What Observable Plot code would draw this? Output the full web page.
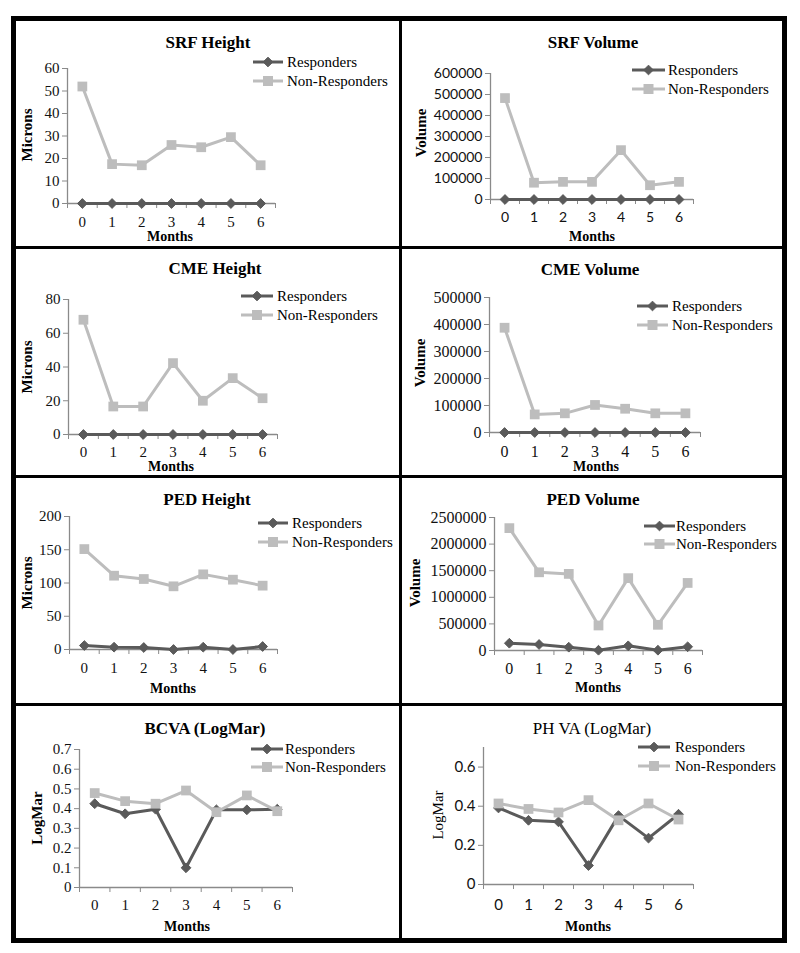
<!DOCTYPE html>
<html><head><meta charset="utf-8">
<script src="https://cdn.jsdelivr.net/npm/d3@7"></script>
<script src="https://cdn.jsdelivr.net/npm/@observablehq/plot@0.6"></script>
<style>
body{margin:0;background:#fff;width:800px;height:953px;position:relative;overflow:hidden}
#frame{position:absolute;left:11px;top:16px;width:776px;height:927px;border:5px solid #000;box-sizing:border-box}
.bar{position:absolute;background:#000}
.cell{position:absolute;overflow:visible}
.cell > svg{position:absolute;left:0;top:0;overflow:visible}
.txt{position:absolute;white-space:nowrap;color:#000;font-family:"Liberation Serif",serif;line-height:1}
</style></head>
<body>
<div id="frame"></div>
<script>
// ---------------- data ----------------
const months = [0, 1, 2, 3, 4, 5, 6];
const seriesNames = ["Responders", "Non-Responders"];

const srfHeightResponders    = [0, 0, 0, 0, 0, 0, 0];
const srfHeightNonResponders = [52, 17.5, 17, 26, 25, 29.5, 17];
const srfHeightTicks = [0, 10, 20, 30, 40, 50, 60];

const srfVolumeResponders    = [0, 0, 0, 0, 0, 0, 0];
const srfVolumeNonResponders = [483000, 80000, 84000, 84000, 235000, 68000, 84000];
const srfVolumeTicks = [0, 100000, 200000, 300000, 400000, 500000, 600000];

const cmeHeightResponders    = [0, 0, 0, 0, 0, 0, 0];
const cmeHeightNonResponders = [68, 16.6, 16.6, 42.3, 20, 33.4, 21.5];
const cmeHeightTicks = [0, 20, 40, 60, 80];

const cmeVolumeResponders    = [0, 0, 0, 0, 0, 0, 0];
const cmeVolumeNonResponders = [388000, 67000, 71000, 102000, 88000, 71000, 71000];
const cmeVolumeTicks = [0, 100000, 200000, 300000, 400000, 500000];

const pedHeightResponders    = [6, 3.5, 3, 0, 3.5, 0, 4.5];
const pedHeightNonResponders = [151, 111, 106, 95, 113, 105, 96];
const pedHeightTicks = [0, 50, 100, 150, 200];

const pedVolumeResponders    = [137000, 113000, 62000, 5000, 88000, 5000, 70000];
const pedVolumeNonResponders = [2300000, 1470000, 1440000, 470000, 1360000, 483000, 1270000];
const pedVolumeTicks = [0, 500000, 1000000, 1500000, 2000000, 2500000];

const bcvaResponders    = [0.425, 0.374, 0.397, 0.1, 0.394, 0.394, 0.397];
const bcvaNonResponders = [0.479, 0.438, 0.425, 0.492, 0.382, 0.467, 0.387];
const bcvaTicks = [0, 0.1, 0.2, 0.3, 0.4, 0.5, 0.6, 0.7];

const phvaResponders    = [0.391, 0.328, 0.32, 0.097, 0.352, 0.237, 0.359];
const phvaNonResponders = [0.414, 0.386, 0.368, 0.431, 0.328, 0.414, 0.332];
const phvaTicks = [0, 0.2, 0.4, 0.6];

const titles = ["SRF Height", "SRF Volume", "CME Height", "CME Volume", "PED Height", "PED Volume", "BCVA (LogMar)", "PH VA (LogMar)"];
const yLabels = ["Microns", "Volume", "Microns", "Volume", "Microns", "Volume", "LogMar", "LogMar"];
const xLabel = "Months";

// ---------------- style ----------------
const DARK = "#5a5a5a", LIGHT = "#bdbdbd", AXIS = "#8a8a8a";
const SERIF = "Liberation Serif", SANS = "Lato";

// panel layout (cell box, margins, text placement)
const panels = [
  {resp: srfHeightResponders, non: srfHeightNonResponders, ticks: srfHeightTicks, ymax: 60,
   box: [16, 21, 383, 225], m: [47, 124, 43, 51], tickFont: SERIF, tickSize: 15, pad: 13,
   title: [192, 21, true], ylab: [11, 114, true], xlab: [154, 216], leg: [237, 267, 271, 41, 60]},
  {resp: srfVolumeResponders, non: srfVolumeNonResponders, ticks: srfVolumeTicks, ymax: 600000,
   box: [402, 21, 380, 225], m: [52, 89, 47, 88], tickFont: SANS, tickSize: 14, pad: 13,
   title: [191, 21, true], ylab: [19, 112, true], xlab: [190, 216], leg: [230, 263, 266, 49, 68]},
  {resp: cmeHeightResponders, non: cmeHeightNonResponders, ticks: cmeHeightTicks, ymax: 80,
   box: [16, 249, 383, 226], m: [50, 122, 41, 52], tickFont: SERIF, tickSize: 15, pad: 12,
   title: [199, 19, true], ylab: [11, 118, true], xlab: [155, 218], leg: [225, 257, 261, 47, 66]},
  {resp: cmeVolumeResponders, non: cmeVolumeNonResponders, ticks: cmeVolumeTicks, ymax: 500000,
   box: [402, 249, 380, 226], m: [48, 82, 43, 87], tickFont: SERIF, tickSize: 16, pad: 13,
   title: [188, 20, true], ylab: [18, 114, true], xlab: [194, 218], leg: [235, 266, 270, 57, 76]},
  {resp: pedHeightResponders, non: pedHeightNonResponders, ticks: pedHeightTicks, ymax: 200,
   box: [16, 478, 383, 225], m: [38, 122, 54, 53], tickFont: SERIF, tickSize: 15, pad: 13,
   title: [191, 21, true], ylab: [11, 105, true], xlab: [157, 211], leg: [242, 272, 276, 45, 64]},
  {resp: pedVolumeResponders, non: pedVolumeNonResponders, ticks: pedVolumeTicks, ymax: 2500000,
   box: [402, 478, 380, 225], m: [39, 80, 53, 92], tickFont: SERIF, tickSize: 16, pad: 12,
   title: [191, 21, true], ylab: [13, 105, true], xlab: [196, 210], leg: [242, 273, 274, 48, 66]},
  {resp: bcvaResponders, non: bcvaNonResponders, ticks: bcvaTicks, ymax: 0.7,
   box: [16, 706, 383, 232], m: [43, 107, 51, 63], tickFont: SERIF, tickSize: 15, pad: 12,
   title: [189, 22, true], ylab: [21, 112, true], xlab: [171, 221], leg: [235, 267, 269, 43, 61]},
  {resp: phvaResponders, non: phvaNonResponders, ticks: phvaTicks, ymax: 0.7,
   box: [402, 706, 380, 232], m: [41, 89, 54, 81], tickFont: SANS, tickSize: 15, pad: 15,
   title: [190, 22, false], ylab: [36, 109, false], xlab: [186, 221], leg: [236, 268, 273, 41, 60]}
];

// ---------------- frame dividers ----------------
function bar(x, y, w, h) {
  const d = document.createElement("div");
  d.className = "bar";
  Object.assign(d.style, {left: x + "px", top: y + "px", width: w + "px", height: h + "px"});
  document.body.appendChild(d);
}
bar(399, 21, 3, 917);
bar(16, 246, 766, 3);
bar(16, 475, 766, 3);
bar(16, 703, 766, 3);

function addText(parent, str, x, y, size, bold, rotate) {
  const t = document.createElement("div");
  t.className = "txt";
  t.textContent = str;
  t.style.left = x + "px";
  t.style.top = y + "px";
  t.style.fontSize = size + "px";
  t.style.fontWeight = bold ? "bold" : "normal";
  t.style.transform = "translate(-50%,-50%)" + (rotate ? " rotate(-90deg)" : "");
  parent.appendChild(t);
  return t;
}

const boundaries = d3.range(-0.5, 7, 1);

panels.forEach((p, i) => {
  const [x0, y0, w, h] = p.box;
  const cell = document.createElement("div");
  cell.className = "cell";
  Object.assign(cell.style, {left: x0 + "px", top: y0 + "px", width: w + "px", height: h + "px"});
  document.body.appendChild(cell);

  const respData = months.map((m, k) => ({month: m, value: p.resp[k], series: seriesNames[0]}));
  const nonData = months.map((m, k) => ({month: m, value: p.non[k], series: seriesNames[1]}));

  const chart = Plot.plot({
    width: w, height: h,
    marginTop: p.m[0], marginRight: p.m[1], marginBottom: p.m[2], marginLeft: p.m[3],
    style: {fontFamily: p.tickFont, fontSize: p.tickSize + "px", color: "#000", background: "transparent", overflow: "visible"},
    x: {domain: [-0.5, 6.5], axis: null},
    y: {domain: [0, p.ymax], axis: null},
    marks: [
      Plot.ruleX([-0.5], {stroke: AXIS, strokeWidth: 1.3}),
      Plot.axisY({ticks: p.ticks, tickFormat: d => String(d), tickSize: 5, tickPadding: 3, stroke: AXIS, label: null,
                  fill: "#111", fontFamily: p.tickFont, fontSize: p.tickSize}),
      Plot.axisX({ticks: boundaries, tickFormat: () => "", tickSize: 5, stroke: AXIS, label: null}),
      Plot.axisX({ticks: months, tickFormat: d => String(d), tickSize: 0, tickPadding: p.pad, label: null,
                  fill: "#111", fontFamily: p.tickFont, fontSize: p.tickSize}),
      Plot.ruleY([0], {stroke: AXIS, strokeWidth: 1.3}),
      Plot.line(respData, {x: "month", y: "value", stroke: DARK, strokeWidth: 3}),
      Plot.dot(respData, {x: "month", y: "value", symbol: "diamond2", r: 4.4, fill: DARK, stroke: DARK, strokeWidth: 1}),
      Plot.line(nonData, {x: "month", y: "value", stroke: LIGHT, strokeWidth: 3}),
      Plot.dot(nonData, {x: "month", y: "value", symbol: "square", r: 5.5, fill: LIGHT})
    ]
  });
  cell.appendChild(chart);

  // title and axis labels
  addText(cell, titles[i], p.title[0], p.title[1], 17, p.title[2], false);
  addText(cell, yLabels[i], p.ylab[0], p.ylab[1], 15, p.ylab[2], true);
  addText(cell, xLabel, p.xlab[0], p.xlab[1], 14, true, false);

  // legend
  const [lx1, lx2, tx, r1, r2] = p.leg;
  [[seriesNames[0], DARK, "diamond", r1], [seriesNames[1], LIGHT, "square", r2]].forEach(([name, col, sym, ry]) => {
    const s = d3.create("svg").attr("width", lx2 - lx1 + 4).attr("height", 14)
      .style("left", (lx1 - 2) + "px").style("top", (ry - 7) + "px");
    s.append("line").attr("x1", 2).attr("x2", lx2 - lx1 + 2).attr("y1", 7).attr("y2", 7)
      .attr("stroke", col).attr("stroke-width", 3);
    const cx = (lx2 - lx1) / 2 + 2;
    if (sym === "diamond") {
      s.append("path").attr("d", d3.symbol(d3.symbolDiamond2, 60)()).attr("transform", `translate(${cx},7)`).attr("fill", col).attr("stroke", col);
    } else {
      s.append("rect").attr("x", cx - 5).attr("y", 2).attr("width", 10).attr("height", 10).attr("fill", col);
    }
    cell.appendChild(s.node());
    const t = document.createElement("div");
    t.className = "txt";
    t.textContent = name;
    t.style.left = tx + "px";
    t.style.top = ry + "px";
    t.style.fontSize = "15px";
    t.style.transform = "translate(0,-50%)";
    cell.appendChild(t);
  });
});
</script>
</body></html>
